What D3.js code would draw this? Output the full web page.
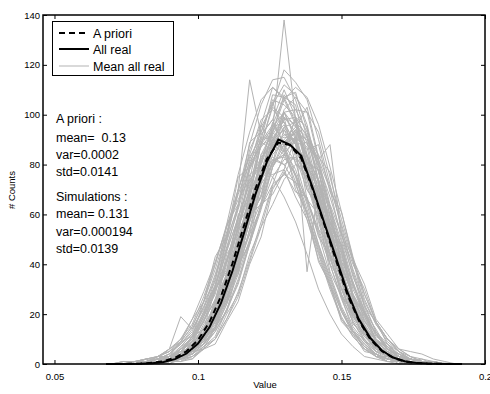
<!DOCTYPE html>
<html>
<head>
<meta charset="utf-8">
<script src="https://cdn.jsdelivr.net/npm/d3@7"></script>
<style>
body { margin: 0; background: white; }
text { font-family: "Liberation Sans", Arial, sans-serif; fill: black; white-space: pre; }
</style>
</head>
<body>
<div id="chart"></div>
<script>
// bin centres of each realization histogram
const realBins = [0.070, 0.074, 0.078, 0.082, 0.086, 0.090, 0.094, 0.098, 0.102, 0.106,
    0.110, 0.114, 0.118, 0.122, 0.126, 0.130, 0.134, 0.138, 0.142, 0.146,
    0.150, 0.154, 0.158, 0.162, 0.166, 0.170, 0.174, 0.178, 0.182, 0.186, 0.190];

// counts of each realization (gray lines)
const realCounts = [
    [0,0,0,1,0,2,4,6,13,19,35,45,66,74,91,96,85,83,63,54,33,25,12,9,3,2,1,0,0,0,0],
    [0,0,1,0,1,3,5,10,17,29,41,59,72,88,95,97,88,76,60,45,31,19,12,6,3,1,0,1,0,0,0],
    [0,0,0,0,0,1,2,5,10,17,30,44,60,77,93,101,102,93,80,63,49,33,21,12,6,3,2,1,0,0,0],
    [0,0,0,1,1,2,4,8,11,23,31,49,61,82,94,138,98,79,70,48,38,21,15,7,4,1,1,0,0,0,0],
    [0,0,0,0,0,1,2,3,6,10,18,27,41,55,64,74,80,76,68,57,44,30,20,12,7,3,2,1,0,0,0],
    [0,0,0,0,1,2,5,9,14,24,40,58,74,95,104,112,108,96,77,60,41,27,16,9,5,2,1,0,0,0,0],
    [0,1,0,1,2,4,8,14,22,35,52,70,114,92,98,88,76,60,47,33,21,12,7,3,2,1,0,0,0,0,0],
    [0,0,0,0,0,1,2,4,7,13,22,34,49,64,79,90,95,91,82,88,52,40,30,17,10,5,3,1,1,0,0],
    [0,0,0,0,1,2,4,7,12,22,34,49,67,81,95,101,90,37,72,55,38,24,15,8,4,2,1,0,0,0,0],
    [0,0,1,2,3,6,19,14,23,31,49,64,79,88,90,86,78,64,48,35,22,13,8,4,2,1,0,0,0,0,0],
    [0,0,0,0,0,1,3,6,9,17,26,41,57,68,84,89,94,83,74,57,45,28,19,10,6,3,1,0,0,0,0],
    [0,0,0,0,1,3,3,8,14,23,36,51,62,80,92,99,93,84,70,53,37,24,14,8,3,1,1,0,0,0,0],
    [0,0,0,0,0,1,2,4,8,14,24,38,54,73,87,102,107,101,93,75,58,42,26,16,9,5,2,1,0,0,0],
    [0,0,0,1,2,3,6,11,19,30,42,57,69,79,83,80,72,60,46,32,21,13,7,4,2,1,0,0,0,0,0],
    [0,0,0,0,1,2,4,6,13,20,35,47,65,76,89,91,90,78,67,50,37,22,15,8,4,2,1,0,0,0,0],
    [0,0,0,0,0,2,3,6,11,20,34,50,68,88,104,118,113,106,90,72,55,37,23,13,7,4,2,1,0,0,0],
    [0,0,0,0,0,1,2,4,8,13,21,33,48,64,79,88,93,90,80,67,52,38,25,16,10,6,5,4,2,1,0],
    [0,0,1,1,2,3,7,12,21,32,47,62,78,87,93,88,81,65,52,36,23,14,8,4,2,1,0,0,0,0,0],
    [0,0,0,0,1,2,3,7,11,21,32,48,62,78,87,95,88,81,65,52,35,24,13,8,4,2,1,0,1,0,0],
    [0,0,0,1,1,3,6,11,20,34,50,69,88,104,114,115,106,91,74,55,38,24,14,8,4,2,1,0,0,0,0],
    [0,0,0,0,1,2,3,6,10,17,27,39,52,63,72,76,73,66,54,42,30,19,12,7,3,2,1,0,0,0,0],
    [0,0,0,1,1,2,5,9,17,26,41,54,71,82,90,94,84,74,58,43,30,18,11,6,3,2,1,0,0,0,0],
    [0,0,0,0,0,1,2,5,9,16,28,42,57,74,87,95,97,89,77,62,46,32,20,12,6,3,2,1,1,0,0],
    [0,0,0,0,1,1,4,8,12,20,33,48,62,77,87,92,89,78,67,50,36,24,14,7,4,2,0,0,0,0,0],
    [0,0,0,1,2,4,8,13,23,36,51,70,84,98,102,97,88,72,57,40,26,15,9,4,2,1,0,0,0,0,0],
    [0,0,0,0,0,1,2,3,7,11,22,32,48,62,79,86,94,88,82,64,52,35,24,13,8,4,2,1,0,0,0],
    [0,1,1,2,3,5,8,12,20,31,45,59,73,83,88,84,76,62,48,34,22,13,7,4,2,1,0,0,0,0,0],
    [0,0,0,0,0,1,3,6,10,17,29,43,60,75,90,98,99,91,79,63,47,32,20,12,6,3,1,0,0,0,0],
    [0,0,0,1,2,4,9,15,25,40,56,76,93,106,111,106,96,79,61,43,28,17,9,5,2,1,0,0,0,0,0],
    [0,0,0,0,0,1,2,4,8,15,25,40,57,76,93,106,111,107,96,79,61,43,28,17,10,5,2,1,0,0,0],
    [0,0,0,1,1,2,4,8,14,24,36,50,63,75,82,83,76,66,53,40,27,17,10,5,3,2,1,0,0,0,0],
    [0,0,0,0,1,1,2,5,8,14,24,36,50,63,75,82,83,77,66,53,40,27,17,10,5,3,2,1,0,0,0],
    [0,0,1,1,3,5,9,15,25,38,53,68,81,90,91,86,75,60,45,31,19,11,6,3,1,1,0,0,0,0,0],
    [0,0,0,0,0,1,1,3,6,10,18,29,42,57,72,84,91,91,84,71,56,41,28,17,10,6,3,1,1,0,0],
    [0,0,0,0,1,3,3,9,12,25,35,55,68,89,96,107,97,92,72,59,39,27,14,10,4,2,1,0,0,0,0],
    [0,0,0,1,1,3,6,10,19,31,46,63,82,93,106,104,99,83,68,50,35,21,13,7,3,2,1,0,0,0,0],
    [0,0,0,0,1,1,3,4,10,14,27,37,54,65,81,84,90,79,72,54,43,27,19,10,6,3,1,1,0,0,0],
    [0,0,0,0,1,2,3,6,11,19,31,43,58,70,81,84,82,74,61,47,33,21,13,7,4,2,1,0,0,0,0],
    [0,0,1,1,3,5,10,16,27,40,55,70,83,91,91,85,73,58,44,30,18,11,6,3,1,1,0,0,0,0,0],
    [0,1,1,2,3,6,10,18,29,41,55,66,74,79,75,67,57,44,30,20,12,7,3,2,1,0,0,0,0,0,0],
    [0,0,0,0,2,1,5,5,15,18,37,43,70,72,96,89,93,74,70,47,39,20,16,6,5,1,1,0,0,0,0],
    [0,0,0,2,0,3,4,11,14,30,37,60,66,89,86,99,80,78,54,48,27,21,9,7,2,2,0,0,0,0,0],
    [0,0,0,0,1,0,3,4,11,14,30,36,60,64,88,85,99,80,78,53,48,26,21,9,7,2,2,1,0,0,0],
    [0,0,1,0,3,3,9,11,25,33,56,64,89,93,105,92,92,66,60,37,27,13,10,3,3,0,1,0,0,0,0],
    [0,0,0,0,0,2,1,5,6,15,21,39,49,72,80,101,95,103,83,77,53,42,23,17,8,5,1,2,0,0,0],
    [0,0,0,1,0,3,3,9,12,26,36,56,70,92,98,110,99,95,73,62,39,28,15,10,4,3,0,0,0,0,0],
    [0,0,0,0,1,1,4,5,12,17,32,40,59,67,82,80,83,70,62,44,34,19,14,6,4,1,1,0,0,0,0],
    [0,0,1,0,2,2,6,9,19,28,46,58,80,88,103,99,96,78,67,47,34,20,13,5,4,1,1,0,0,0,0],
    [0,0,0,0,0,2,2,7,9,20,29,49,61,84,93,108,102,101,82,70,50,36,21,14,6,4,1,1,0,0,0],
    [0,0,0,1,1,3,5,11,17,30,38,56,64,77,76,78,67,58,42,32,18,13,6,4,1,1,0,0,0,0,0],
    [0,0,0,0,0,0,2,2,7,10,20,28,44,55,71,76,85,78,74,57,48,31,22,11,8,3,2,1,0,0,0],
    [0,0,0,0,1,3,2,8,11,24,32,53,63,84,89,101,91,87,66,57,36,26,13,9,3,2,1,0,0,0,0],
    [0,0,0,1,2,1,6,8,18,25,44,52,76,80,97,88,91,70,63,40,33,16,12,5,4,1,1,0,0,0,0],
    [0,0,0,0,0,1,3,4,10,15,29,38,59,67,89,87,98,81,78,55,47,28,20,10,7,2,2,0,1,0,0],
    [0,0,0,0,1,2,5,7,16,23,42,54,78,90,108,107,109,94,81,59,45,26,18,9,5,2,1,0,0,0,0],
    [0,0,1,2,2,6,9,18,25,43,51,75,79,96,88,88,70,61,41,32,17,12,5,4,1,1,0,0,0,0,0],
    [0,0,0,0,0,1,1,2,6,8,17,25,40,51,70,78,91,86,88,69,61,42,32,18,12,6,3,2,1,0,0],
    [0,0,0,0,0,2,2,6,9,18,25,40,48,64,68,77,69,67,51,44,28,20,11,7,3,2,0,0,0,0,0],
    [0,0,0,1,2,2,7,10,21,31,50,63,86,96,111,107,104,84,73,51,37,21,14,6,4,1,1,0,0,0,0],
    [0,0,0,0,1,1,2,6,8,18,25,43,52,74,80,94,88,89,69,63,41,33,17,13,5,4,1,1,0,0,0]
];

// bin centres of the pooled curves
const meanBins = [0.068, 0.072, 0.076, 0.080, 0.084, 0.088, 0.092, 0.096, 0.100, 0.104,
    0.108, 0.112, 0.116, 0.120, 0.124, 0.128, 0.132, 0.136, 0.140, 0.144,
    0.148, 0.152, 0.156, 0.160, 0.164, 0.168, 0.172, 0.176, 0.180, 0.184, 0.188, 0.192];

const aPriori = [0, 0.02, 0.06, 0.18, 0.46, 1.1, 2.5, 5.1, 9.6, 16.8,
    27.1, 40.3, 55.4, 70.3, 82.2, 88.8, 87.8, 82.5, 70, 56,
    42, 28, 17.5, 10, 5.2, 2.5, 1.0, 0.4, 0.15, 0.05, 0.02, 0];

const allReal = [0, 0.01, 0.04, 0.12, 0.34, 0.84, 1.96, 4.2, 8.2, 14.7,
    24.4, 37.3, 52.5, 68, 81.1, 90, 88, 83.5, 70.5, 56.5,
    43, 29, 18, 10.5, 5.5, 2.6, 1.1, 0.45, 0.16, 0.06, 0.02, 0];

const xTicks = [0.05, 0.1, 0.15, 0.2];
const xTickLabels = ["0.05", "0.1", "0.15", "0.2"];
const yTicks = [0, 20, 40, 60, 80, 100, 120, 140];

const legendLabels = ["A priori", "All real", "Mean all real"];
const aPrioriText = ["A priori :", "mean=  0.13", "var=0.0002", "std=0.0141"];
const simText = ["Simulations :", "mean= 0.131", "var=0.000194", "std=0.0139"];

var dimensions = {
    width: 490,
    height: 394,
    margin: { top: 15, bottom: 30, right: 5, left: 43 }
};
var innerW = dimensions.width - dimensions.margin.left - dimensions.margin.right;
var innerH = dimensions.height - dimensions.margin.top - dimensions.margin.bottom;

var svg = d3.select("#chart")
    .append("svg")
    .attr("width", dimensions.width)
    .attr("height", dimensions.height);

var g = svg.append("g")
    .attr("transform", `translate(${dimensions.margin.left},${dimensions.margin.top})`);

var x = d3.scaleLinear().domain([0.046, 0.2]).range([0, innerW]);
var y = d3.scaleLinear().domain([0, 140]).range([innerH, 0]);

var gray = "#b3b3b3";

// gray realizations
var realLine = d3.line().x((d, i) => x(realBins[i])).y(d => y(d));
g.selectAll(".real")
    .data(realCounts)
    .enter().append("path")
    .attr("class", "real")
    .attr("d", realLine)
    .attr("fill", "none")
    .attr("stroke", gray)
    .attr("stroke-width", 1);

var meanLine = d3.line().x((d, i) => x(meanBins[i])).y(d => y(d));
g.append("path")
    .attr("d", meanLine(aPriori))
    .attr("fill", "none")
    .attr("stroke", "black")
    .attr("stroke-width", 2)
    .attr("stroke-dasharray", "6,4");
g.append("path")
    .attr("d", meanLine(allReal))
    .attr("fill", "none")
    .attr("stroke", "black")
    .attr("stroke-width", 2);

// axes, ticks pointing inside
var xAxis = g.append("g")
    .attr("transform", `translate(0,${innerH})`)
    .call(d3.axisBottom(x).tickValues(xTicks).tickFormat((d, i) => xTickLabels[i])
        .tickSizeInner(-4).tickSizeOuter(0).tickPadding(9));
var xTop = g.append("g")
    .call(d3.axisTop(x).tickValues(xTicks).tickFormat("").tickSizeInner(-4).tickSizeOuter(0));
var yAxis = g.append("g")
    .call(d3.axisLeft(y).tickValues(yTicks).tickSizeInner(-4).tickSizeOuter(0).tickPadding(3));
var yRight = g.append("g")
    .attr("transform", `translate(${innerW},0)`)
    .call(d3.axisRight(y).tickValues(yTicks).tickFormat("").tickSizeInner(-4).tickSizeOuter(0));

[xAxis, xTop, yAxis, yRight].forEach(a => {
    a.select(".domain").remove();
    a.selectAll("text").style("font-size", "9.5px").attr("fill", "black");
    a.selectAll("line").attr("stroke", "black");
});

g.append("rect")
    .attr("width", innerW)
    .attr("height", innerH)
    .attr("fill", "none")
    .attr("stroke", "black")
    .attr("stroke-width", 1.5);

// axis titles
svg.append("text")
    .attr("x", 265)
    .attr("y", 388)
    .attr("text-anchor", "middle")
    .style("font-size", "9.5px")
    .text("Value");
svg.append("text")
    .attr("transform", "translate(15,190) rotate(-90)")
    .attr("text-anchor", "middle")
    .style("font-size", "9.5px")
    .text("# Counts");

// legend
var legend = svg.append("g");
legend.append("rect")
    .attr("x", 52.5).attr("y", 21.5)
    .attr("width", 121).attr("height", 54)
    .attr("fill", "white")
    .attr("stroke", "black")
    .attr("stroke-width", 1);
var legendStyles = [
    { stroke: "black", width: 2, dash: "6,4" },
    { stroke: "black", width: 2, dash: null },
    { stroke: gray, width: 1, dash: null }
];
var legendRows = [33, 49, 66];
legendLabels.forEach((label, i) => {
    legend.append("line")
        .attr("x1", 59).attr("x2", 89)
        .attr("y1", legendRows[i]).attr("y2", legendRows[i])
        .attr("stroke", legendStyles[i].stroke)
        .attr("stroke-width", legendStyles[i].width)
        .attr("stroke-dasharray", legendStyles[i].dash);
    legend.append("text")
        .attr("x", 93)
        .attr("y", legendRows[i] + 4.5)
        .style("font-size", "12.5px")
        .text(label);
});

// statistics text
var statsY1 = [123, 141.5, 159, 176];
var statsY2 = [200.5, 218, 235.5, 253];
aPrioriText.forEach((t, i) => {
    svg.append("text").attr("x", 56).attr("y", statsY1[i]).style("font-size", "12.5px").text(t);
});
simText.forEach((t, i) => {
    svg.append("text").attr("x", 56).attr("y", statsY2[i]).style("font-size", "12.5px").text(t);
});
</script>
</body>
</html>
